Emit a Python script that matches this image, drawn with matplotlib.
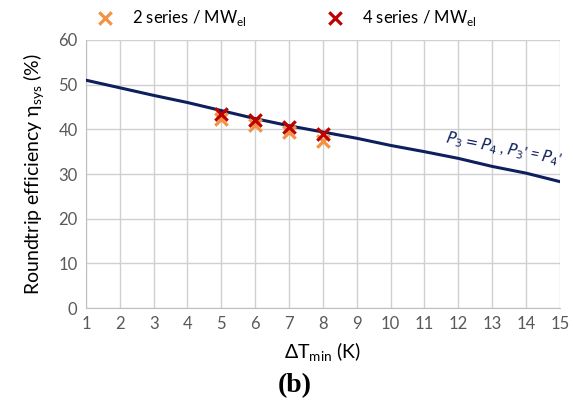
import matplotlib
matplotlib.use("Agg")
import matplotlib.pyplot as plt

plt.rcParams['font.family'] = ['Lato', 'DejaVu Sans']

# Data
dt_line = [1, 2, 3, 4, 5, 6, 7, 8, 9, 10, 11, 12, 13, 14, 15]
eta_line = [51.0, 49.3, 47.6, 46.0, 44.2, 42.4, 40.8, 39.4, 38.0, 36.4, 35.0, 33.5, 31.7, 30.2, 28.3]

dt_pts = [5, 6, 7, 8]
eta_2series = [42.4, 40.9, 39.4, 37.5]
eta_4series = [43.5, 42.0, 40.5, 39.0]

fig = plt.figure(figsize=(5.73, 4.08), dpi=100)
ax = fig.add_axes([0.150, 0.245, 0.827, 0.657])

ax.plot(dt_line, eta_line, color='#0d1f5c', lw=2.2, zorder=3)
ax.scatter(dt_pts, eta_2series, marker='x', s=80, lw=2.3, color='#f39240', zorder=4,
           label='2 series / MW$_{\\mathregular{el}}$')
ax.scatter(dt_pts, eta_4series, marker='x', s=80, lw=2.3, color='#c00000', zorder=5,
           label='4 series / MW$_{\\mathregular{el}}$')

ax.set_xlim(1, 15)
ax.set_ylim(0, 60)
ax.set_xticks(range(1, 16))
ax.set_yticks(range(0, 61, 10))
ax.grid(True, color='#d0d0d0', lw=1)
ax.set_axisbelow(True)
for s in ['top', 'right']:
    ax.spines[s].set_visible(False)
for s in ['left', 'bottom']:
    ax.spines[s].set_color('#bfbfbf')
ax.tick_params(length=0, labelsize=12, colors='#595959', pad=6)

ax.text(13.35, 35.6, "$P_3 = P_4$ , $P_3$' = $P_4$'", rotation=-11, color='#0d1f5c',
        fontsize=11, style='italic', ha='center', va='center')

ax.set_ylabel('Roundtrip efficiency η$_{\\mathregular{sys}}$ (%)', fontsize=14, labelpad=8)
ax.set_xlabel('ΔT$_{\\mathregular{min}}$ (K)', fontsize=14, labelpad=6)

ax.legend(loc='lower center', bbox_to_anchor=(0.415, 0.99), ncol=2, frameon=False,
          fontsize=12, handletextpad=0.6, columnspacing=4.3)

fig.text(0.515, 0.056, '(b)', fontsize=20, fontweight='bold', family='Liberation Serif',
         ha='center', va='center')

fig.savefig('out.png', dpi=100)
